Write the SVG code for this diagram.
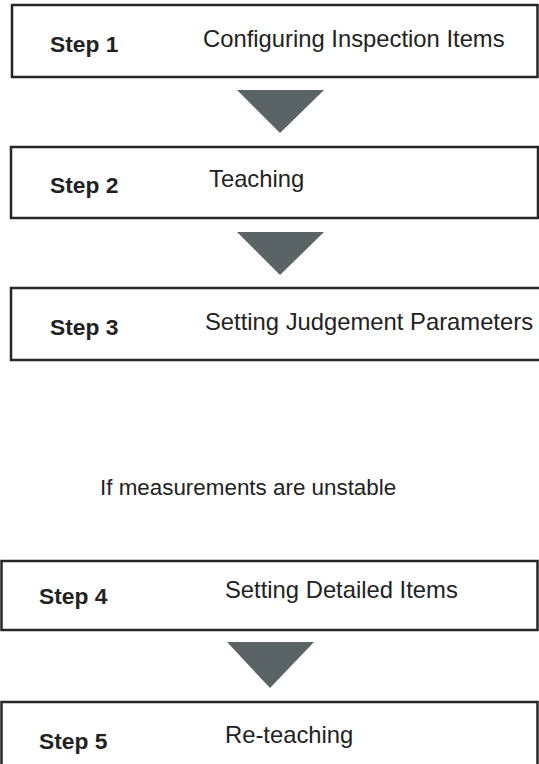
<svg xmlns="http://www.w3.org/2000/svg" width="539" height="764" viewBox="0 0 539 764">
<style>
.box{fill:#fff;stroke:#262626;stroke-width:2.5}
.arr{fill:#5a6366}
.step{font-family:"Liberation Sans",Arial,sans-serif;font-weight:bold;font-size:22.8px;fill:#222}
.lbl{font-family:"Liberation Sans",Arial,sans-serif;font-size:23.8px;fill:#222}
.cond{font-family:"Liberation Sans",Arial,sans-serif;font-size:22.4px;fill:#222}
</style>
<rect width="539" height="764" fill="#fff"/>
<g id="connectors">
<polygon class="arr" points="237,90 324,90 280,133"/>
<polygon class="arr" points="237,232 324,232 280,275"/>
<polygon class="arr" points="227,642 314,642 270,688"/>
</g>
<g id="step1">
<rect class="box" x="12" y="5" width="525.5" height="72"/>
<text class="step" x="50" y="52">Step 1</text>
<text class="lbl" x="203" y="47">Configuring Inspection Items</text>
</g>
<g id="step2">
<rect class="box" x="11" y="147" width="527" height="71"/>
<text class="step" x="50" y="193">Step 2</text>
<text class="lbl" x="209" y="187">Teaching</text>
</g>
<g id="step3">
<rect class="box" x="11" y="288" width="530" height="72"/>
<text class="step" x="50" y="335">Step 3</text>
<text class="lbl" x="205" y="330">Setting Judgement Parameters</text>
</g>
<g id="condition">
<text class="cond" x="100" y="495">If measurements are unstable</text>
</g>
<g id="step4">
<rect class="box" x="1.5" y="561" width="536" height="69"/>
<text class="step" x="39" y="604">Step 4</text>
<text class="lbl" x="225" y="598">Setting Detailed Items</text>
</g>
<g id="step5">
<rect class="box" x="1.5" y="702" width="536" height="80"/>
<text class="step" x="39" y="749">Step 5</text>
<text class="lbl" x="225" y="743">Re-teaching</text>
</g>
</svg>
